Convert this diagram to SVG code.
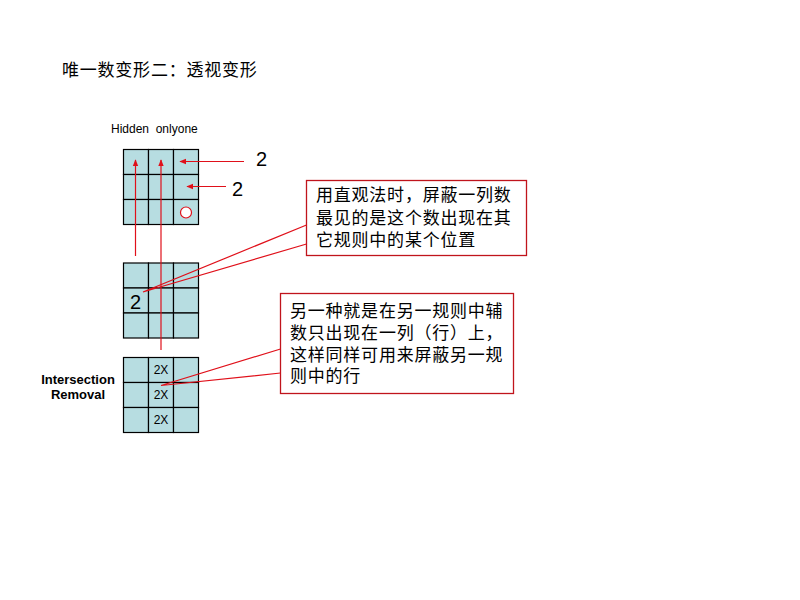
<svg xmlns="http://www.w3.org/2000/svg" width="800" height="600" viewBox="0 0 800 600">
<defs>
<style>
.cell{fill:#b7dde1;stroke:#000;stroke-width:1.2}
.red{stroke:#e0101a;stroke-width:1.2;fill:none}
.box{fill:#fff;stroke:#c0141c;stroke-width:1.3}
.cn{font-family:"Liberation Sans","Noto Sans CJK SC",sans-serif;font-size:17px;letter-spacing:0.78px;fill:#000}
.s{font-family:"Liberation Sans",Arial,sans-serif;fill:#000}
</style>
<marker id="ah" viewBox="0 0 10 10" refX="9" refY="5" markerWidth="7" markerHeight="7" orient="auto" markerUnits="userSpaceOnUse">
<path d="M0,1 L10,5 L0,9 z" fill="#e0101a"/>
</marker>
<g id="grid">
<rect class="cell" x="0" y="0" width="25" height="25"/>
<rect class="cell" x="25" y="0" width="25" height="25"/>
<rect class="cell" x="50" y="0" width="25" height="25"/>
<rect class="cell" x="0" y="25" width="25" height="25"/>
<rect class="cell" x="25" y="25" width="25" height="25"/>
<rect class="cell" x="50" y="25" width="25" height="25"/>
<rect class="cell" x="0" y="50" width="25" height="25"/>
<rect class="cell" x="25" y="50" width="25" height="25"/>
<rect class="cell" x="50" y="50" width="25" height="25"/>
</g>
</defs>
<rect width="800" height="600" fill="#fff"/>
<text class="cn" x="62" y="76">唯一数变形二：透视变形</text>
<g id="top-grid">
<use href="#grid" x="123.5" y="149.5"/>
<circle cx="186" cy="212.5" r="5.5" fill="#fff" stroke="#e0101a" stroke-width="1.2"/>
<text class="s" x="111" y="133" font-size="12" xml:space="preserve">Hidden  onlyone</text>
</g>
<g id="middle-grid">
<use href="#grid" x="123.5" y="263"/>
<text class="s" x="130" y="309" font-size="20">2</text>
</g>
<g id="bottom-grid">
<use href="#grid" x="123.5" y="357.5"/>
<text class="s" x="161" y="374" font-size="12" text-anchor="middle">2X</text>
<text class="s" x="161" y="399" font-size="12" text-anchor="middle">2X</text>
<text class="s" x="161" y="424" font-size="12" text-anchor="middle">2X</text>
<text class="s" x="78" y="384" font-size="13" font-weight="bold" text-anchor="middle">Intersection</text>
<text class="s" x="78" y="399" font-size="13" font-weight="bold" text-anchor="middle">Removal</text>
</g>
<g id="label-2a"><text class="s" x="256" y="166" font-size="20">2</text></g>
<g id="label-2b"><text class="s" x="232" y="196" font-size="20">2</text></g>
<g id="callout-1">
<rect class="box" x="306.5" y="180.5" width="220" height="75"/>
<text class="cn" x="316" y="201">用直观法时，屏蔽一列数</text>
<text class="cn" x="316" y="224">最见的是这个数出现在其</text>
<text class="cn" x="316" y="246">它规则中的某个位置</text>
</g>
<g id="callout-2">
<rect class="box" x="280.5" y="293.5" width="233" height="100"/>
<text class="cn" x="290" y="317">另一种就是在另一规则中辅</text>
<text class="cn" x="290" y="339">数只出现在一列（行）上，</text>
<text class="cn" x="290" y="361">这样同样可用来屏蔽另一规</text>
<text class="cn" x="290" y="382">则中的行</text>
</g>
<g id="connectors">
<line class="red" x1="135.5" y1="256" x2="135.5" y2="160" marker-end="url(#ah)"/>
<line class="red" x1="161" y1="350" x2="161" y2="160" marker-end="url(#ah)"/>
<line class="red" x1="244" y1="161.5" x2="180" y2="161.5" marker-end="url(#ah)"/>
<line class="red" x1="226" y1="186.5" x2="187" y2="186.5" marker-end="url(#ah)"/>
<polyline class="red" points="306.5,225 143,292 306.5,244"/>
<polyline class="red" points="280.5,349 161,385.5 280.5,373"/>
</g>
</svg>
